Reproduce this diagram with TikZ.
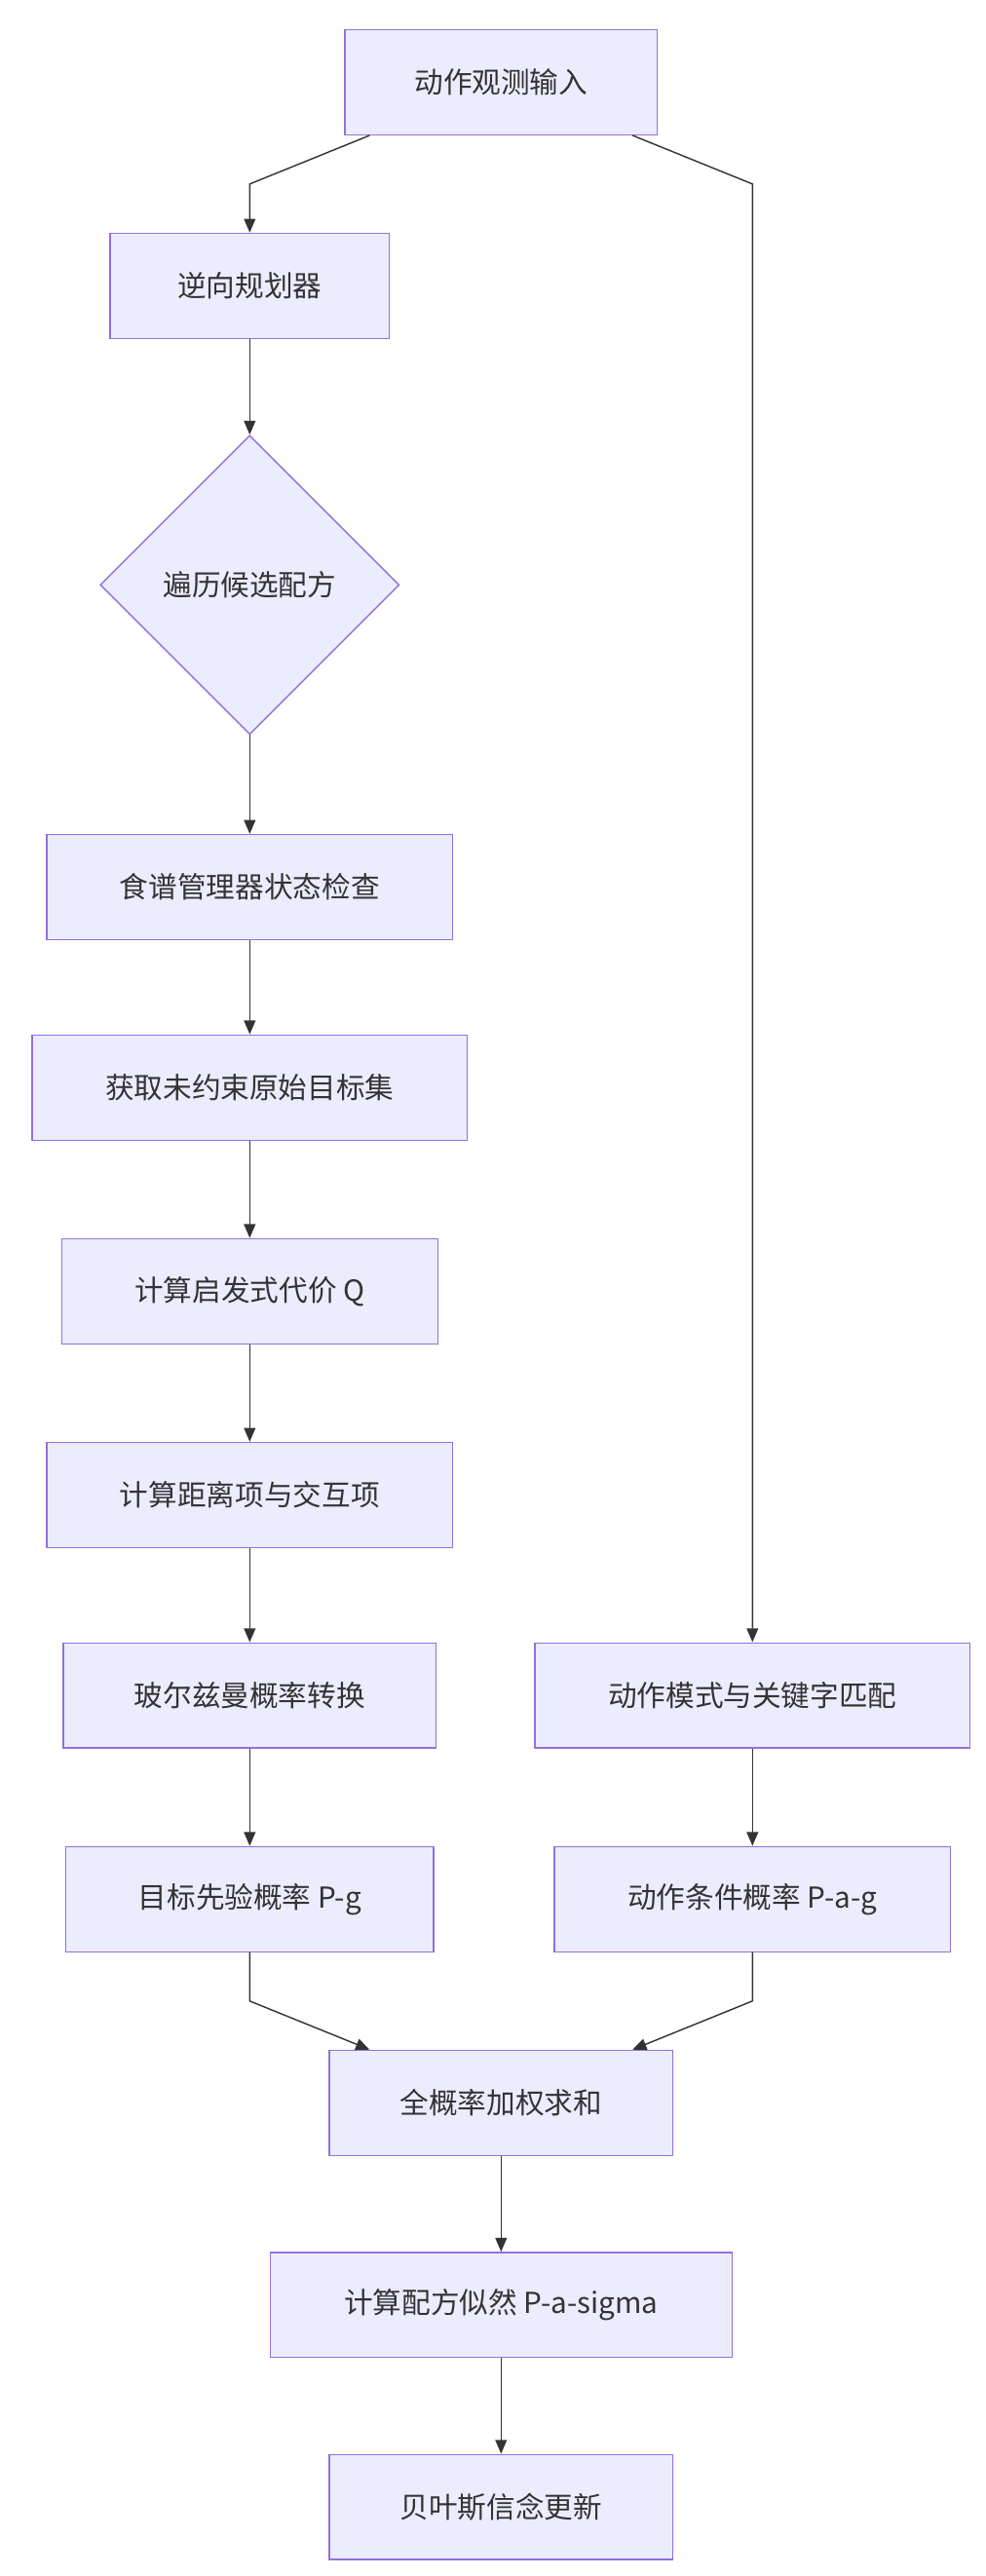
\documentclass[tikz,border=0pt]{standalone}
\usepackage{fontspec}
\setmainfont{Noto Sans CJK SC}
\usetikzlibrary{calc,positioning,arrows.meta,shapes.geometric}
\definecolor{boxfill}{HTML}{ECECFF}
\definecolor{boxline}{HTML}{9370DB}
\definecolor{edgeline}{HTML}{333333}
\tikzset{
  box/.style={draw=boxline, fill=boxfill, line width=0.6pt, minimum height=64*0.025cm, inner sep=0pt, text=edgeline, font=\fontsize{12.5}{15}\selectfont},
  decide/.style={box, diamond, aspect=1, minimum width=182*0.025cm, minimum height=182*0.025cm},
  link/.style={draw=edgeline, line width=0.6pt, -{Triangle[length=6pt,width=5pt]}}
}
\begin{document}
\begin{tikzpicture}[x=0.025cm, y=-0.025cm]
    \useasboundingbox (0,0) rectangle (600,1568);

    % left column
    \node[box, minimum width=190*0.025cm] (obs) at (305,50) {动作观测输入};
    \node[box, minimum width=170*0.025cm] (planner) at (152,174) {逆向规划器};
    \node[decide] (loop) at (152,356) {遍历候选配方};
    \node[box, minimum width=247*0.025cm] (check) at (152,540) {食谱管理器状态检查};
    \node[box, minimum width=265*0.025cm] (goals) at (152,662) {获取未约束原始目标集};
    \node[box, minimum width=229*0.025cm] (cost) at (152,786) {计算启发式代价 Q};
    \node[box, minimum width=247*0.025cm] (dist) at (152,910) {计算距离项与交互项};
    \node[box, minimum width=227*0.025cm] (boltz) at (152,1032) {玻尔兹曼概率转换};
    \node[box, minimum width=224*0.025cm] (prior) at (152,1156) {目标先验概率 P-g};

    % right column
    \node[box, minimum width=265*0.025cm] (match) at (458,1032) {动作模式与关键字匹配};
    \node[box, minimum width=241*0.025cm] (cond) at (458,1156) {动作条件概率 P-a-g};

    % merge
    \node[box, minimum width=209*0.025cm] (total) at (305,1280) {全概率加权求和};
    \node[box, minimum width=281*0.025cm] (likely) at (305,1403) {计算配方似然 P-a-sigma};
    \node[box, minimum width=209*0.025cm] (update) at (305,1526) {贝叶斯信念更新};

    \coordinate (bendL) at (152,112);
    \coordinate (bendR) at (458,112);
    \coordinate (joinL) at (152,1218);
    \coordinate (joinR) at (458,1218);

    \draw[link] ([xshift=-80*0.025cm]obs.south) -- (bendL) -- (planner.north);
    \draw[link] ([xshift=80*0.025cm]obs.south) -- (bendR) -- (match.north);
    \draw[link] (planner) -- (loop);
    \draw[link] (loop) -- (check);
    \draw[link] (check) -- (goals);
    \draw[link] (goals) -- (cost);
    \draw[link] (cost) -- (dist);
    \draw[link] (dist) -- (boltz);
    \draw[link] (boltz) -- (prior);
    \draw[link] (match) -- (cond);
    \draw[link] (prior.south) -- (joinL) -- ([xshift=-80*0.025cm]total.north);
    \draw[link] (cond.south) -- (joinR) -- ([xshift=80*0.025cm]total.north);
    \draw[link] (total) -- (likely);
    \draw[link] (likely) -- (update);
\end{tikzpicture}
\end{document}
